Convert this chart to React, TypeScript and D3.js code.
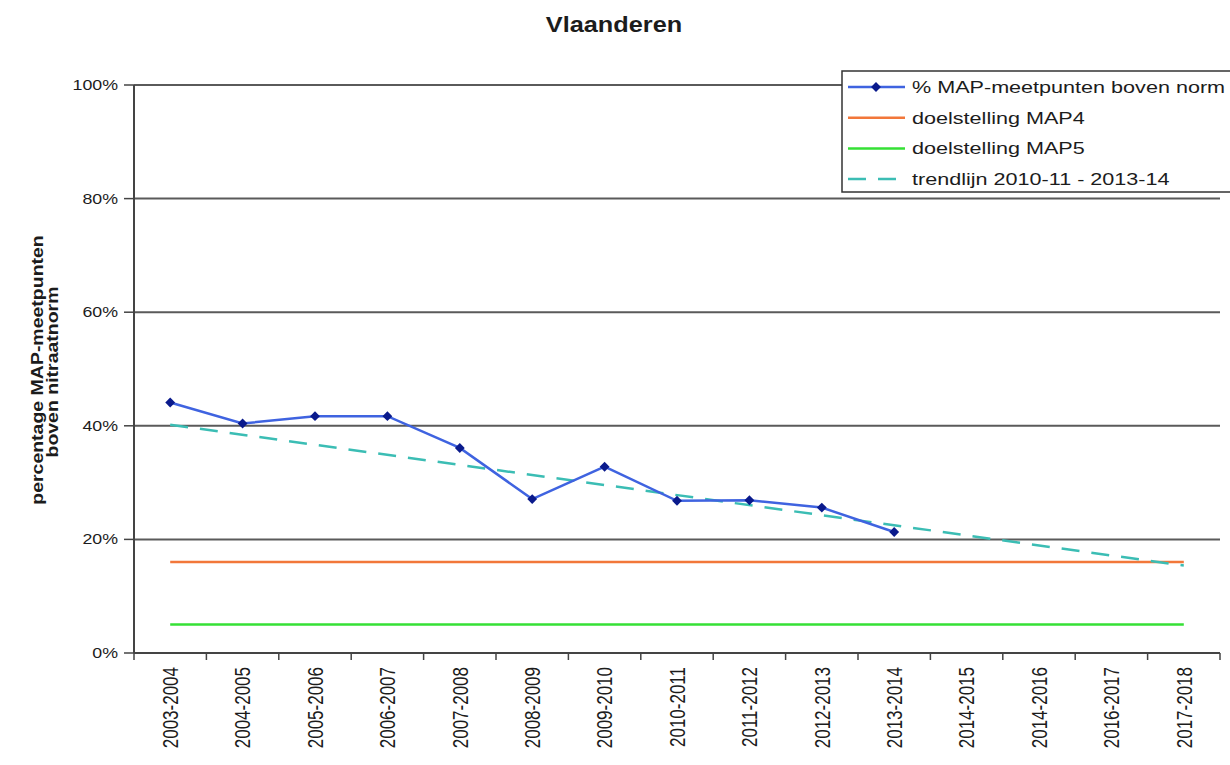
import { useMemo } from 'react';
import * as d3 from 'd3';

// seizoenen op de x-as
const seasons = [
  '2003-2004', '2004-2005', '2005-2006', '2006-2007', '2007-2008',
  '2008-2009', '2009-2010', '2010-2011', '2011-2012', '2012-2013',
  '2013-2014', '2014-2015', '2014-2016', '2016-2017', '2017-2018',
];

// % MAP-meetpunten boven norm (gemeten seizoenen)
const measuredSeasons = [
  '2003-2004', '2004-2005', '2005-2006', '2006-2007', '2007-2008',
  '2008-2009', '2009-2010', '2010-2011', '2011-2012', '2012-2013',
  '2013-2014',
];
const pctAboveNorm = [44.1, 40.4, 41.7, 41.7, 36.1, 27.1, 32.8, 26.8, 26.9, 25.6, 21.3];

// doelstellingen
const targetSeasons = ['2003-2004', '2017-2018'];
const targetMap4 = [16, 16];
const targetMap5 = [5, 5];

// trendlijn 2010-11 - 2013-14, doorgetrokken
const trendSeasons = ['2003-2004', '2017-2018'];
const trendValues = [40.2, 15.4];

const yTicks = [0, 20, 40, 60, 80, 100];

const legendLabels = [
  '% MAP-meetpunten boven norm',
  'doelstelling MAP4',
  'doelstelling MAP5',
  'trendlijn 2010-11 - 2013-14',
];

const font = '"Liberation Sans", Arial, Helvetica, sans-serif';
const ink = '#1c1c1c';
const sx = 1.27; // tekst is breder uitgerekt in het origineel

export default function App() {
  const width = 1230,
    height = 765,
    marginLeft = 134,
    plotRight = 1220,
    plotTop = 85,
    plotBottom = 653;

  const x = d3.scaleBand().domain(seasons).range([marginLeft, plotRight]);
  const cx = (s: string) => (x(s) as number) + x.bandwidth() / 2;
  const y = d3.scaleLinear().domain([0, 100]).range([plotBottom, plotTop]);

  const line = d3
    .line<[string, number]>()
    .x((d) => cx(d[0]))
    .y((d) => y(d[1]));

  const measured = measuredSeasons.map((s, i) => [s, pctAboveNorm[i]] as [string, number]);
  const map4 = targetSeasons.map((s, i) => [s, targetMap4[i]] as [string, number]);
  const map5 = targetSeasons.map((s, i) => [s, targetMap5[i]] as [string, number]);
  const trend = trendSeasons.map((s, i) => [s, trendValues[i]] as [string, number]);

  const diamond = useMemo(() => d3.symbol(d3.symbolDiamond2, 62)() as string, []);

  const blue = '#3f63e0',
    navy = '#0a1a8c',
    orange = '#f2773a',
    green = '#35e035',
    teal = '#3bbdb4';

  const legendX = 842,
    legendY = 71,
    rowH = 30.7;

  return (
    <svg
      width={width}
      height={height}
      style={{ position: 'absolute', left: 0, top: 0, background: '#fff' }}
    >
      <rect width={width} height={height} fill="#fff" />

      {/* titel */}
      <text
        transform={`translate(614,32) scale(1.15,1)`}
        textAnchor="middle"
        fontFamily={font}
        fontWeight="bold"
        fontSize={22}
        fill={ink}
      >
        Vlaanderen
      </text>

      {/* rasterlijnen */}
      {yTicks.slice(1).map((t) => (
        <line
          key={t}
          x1={marginLeft}
          x2={plotRight}
          y1={y(t)}
          y2={y(t)}
          stroke="#5a5a5a"
          strokeWidth={2}
        />
      ))}

      {/* y-as */}
      <line x1={marginLeft} x2={marginLeft} y1={plotTop} y2={plotBottom} stroke="#444" strokeWidth={2} />
      {yTicks.map((t) => (
        <g key={t}>
          <line x1={marginLeft - 10} x2={marginLeft} y1={y(t)} y2={y(t)} stroke="#444" strokeWidth={1.5} />
          <text
            transform={`translate(118,${y(t) + 5}) scale(${sx},1)`}
            textAnchor="end"
            fontFamily={font}
            fontSize={14}
            fill={ink}
          >
            {t}%
          </text>
        </g>
      ))}

      {/* y-as titel */}
      <g fontFamily={font} fontWeight="bold" fontSize={19.5} fill={ink} textAnchor="middle">
        <text transform={`translate(43,370) scale(0.8,1) rotate(-90)`}>percentage MAP-meetpunten</text>
        <text transform={`translate(58,372) scale(0.8,1) rotate(-90)`}>boven nitraatnorm</text>
      </g>

      {/* x-as */}
      <line x1={marginLeft} x2={plotRight} y1={plotBottom} y2={plotBottom} stroke="#444" strokeWidth={2} />
      {[...seasons.map((s) => x(s) as number), plotRight].map((v, i) => (
        <line key={i} x1={v} x2={v} y1={plotBottom} y2={plotBottom + 7} stroke="#444" strokeWidth={1.5} />
      ))}
      {seasons.map((s) => (
        <text
          key={s}
          transform={`translate(${cx(s)},667) scale(${sx},1) rotate(-90)`}
          textAnchor="end"
          dy="0.36em"
          fontFamily={font}
          fontSize={17}
          fill={ink}
        >
          {s}
        </text>
      ))}

      {/* legende */}
      <rect
        x={legendX}
        y={legendY}
        width={420}
        height={121}
        fill="#fff"
        stroke="#333"
        strokeWidth={1.5}
      />
      {legendLabels.map((label, i) => {
        const ly = legendY + 16 + i * rowH;
        const stroke = [blue, orange, green, teal][i];
        return (
          <g key={label}>
            <line
              x1={legendX + 6}
              x2={legendX + 63}
              y1={ly}
              y2={ly}
              stroke={stroke}
              strokeWidth={2.5}
              strokeDasharray={i === 3 ? '18,12' : undefined}
            />
            {i === 0 && <path d={diamond} transform={`translate(${legendX + 34},${ly})`} fill={navy} />}
            <text
              transform={`translate(${legendX + 70},${ly + 6}) scale(${sx},1)`}
              fontFamily={font}
              fontSize={17}
              fill={ink}
            >
              {label}
            </text>
          </g>
        );
      })}

      {/* reeksen */}
      <path d={line(map5) as string} fill="none" stroke={green} strokeWidth={2.5} />
      <path d={line(map4) as string} fill="none" stroke={orange} strokeWidth={2.5} />
      <path d={line(trend) as string} fill="none" stroke={teal} strokeWidth={2.5} strokeDasharray="18,12" />
      <path d={line(measured) as string} fill="none" stroke={blue} strokeWidth={2.5} />
      {measured.map((d) => (
        <path key={d[0]} d={diamond} transform={`translate(${cx(d[0])},${y(d[1])})`} fill={navy} />
      ))}
    </svg>
  );
}
